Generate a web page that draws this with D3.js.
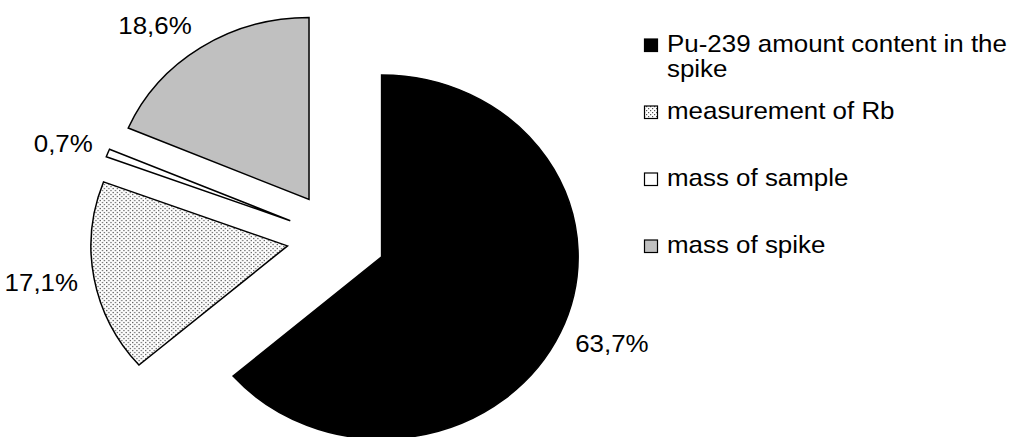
<!DOCTYPE html>
<html><head><meta charset="utf-8">
<script src="https://cdn.jsdelivr.net/npm/d3@7"></script>
<style>
html,body{margin:0;padding:0;background:#fff;}
svg{display:block;}
text{font-family:"Liberation Sans",Arial,Helvetica,sans-serif;font-size:24px;fill:#000;}
</style></head>
<body>
<svg id="chart" width="1012" height="437"></svg>
<script>
const categories = ["Pu-239 amount content in the spike", "measurement of Rb", "mass of sample", "mass of spike"];
const legendLines = [["Pu-239 amount content in the", "spike"], ["measurement of Rb"], ["mass of sample"], ["mass of spike"]];
const values = [63.7, 17.1, 0.7, 18.6];
const fills = ["#000000", "url(#dots)", "#ffffff", "#c0c0c0"];

const svg = d3.select("#chart");
const cx = 336.4, cy = 237.8, r = 182, sx = 1.08, explode = 46, labelR = 243;

const defs = svg.append("defs");
const pat = defs.append("pattern").attr("id", "dots").attr("patternUnits", "userSpaceOnUse")
  .attr("width", 4).attr("height", 4);
pat.append("rect").attr("width", 4).attr("height", 4).attr("fill", "#fff");
pat.append("rect").attr("x", 0).attr("y", 0).attr("width", 1.2).attr("height", 1.2).attr("fill", "#555");
pat.append("rect").attr("x", 2).attr("y", 2).attr("width", 1.2).attr("height", 1.2).attr("fill", "#555");

const fmtLocale = d3.formatLocale({decimal: ",", thousands: ".", grouping: [3], currency: ["", ""]});
const fmt = v => fmtLocale.format(".1f")(v) + "%";

const pie = d3.pie().sort(null).value(d => d);
const arcs = pie(values);
const arc = d3.arc().innerRadius(0).outerRadius(r);

const g = svg.append("g").attr("transform", `translate(${cx},${cy}) scale(${sx},1)`);
g.selectAll("path").data(arcs).join("path")
  .attr("transform", d => {
    const m = (d.startAngle + d.endAngle) / 2;
    return `translate(${explode * Math.sin(m)},${-explode * Math.cos(m)})`;
  })
  .attr("d", arc)
  .attr("fill", (d, i) => fills[i])
  .attr("stroke", "#000")
  .attr("stroke-width", 1.5)
  .attr("stroke-linejoin", "miter")
  .attr("vector-effect", "non-scaling-stroke");

// data labels
const lab = svg.append("g");
arcs.forEach((d, i) => {
  const m = (d.startAngle + d.endAngle) / 2;
  const px = cx + sx * labelR * Math.sin(m);
  const py = cy - labelR * Math.cos(m);
  const t = lab.append("text").text(fmt(values[i]))
    .attr("text-anchor", "middle").attr("dominant-baseline", "central");
  const w = t.node().getComputedTextLength() * sx;
  const h = 24;
  const tx = px + (w / 2) * Math.sign(Math.sin(m));
  const ty = py - (h / 2) * Math.cos(m);
  t.attr("transform", `translate(${tx},${ty}) scale(${sx},1)`);
});

// legend
const legY = d3.scaleLinear().domain([0, 3]).range([52, 253]);
const leg = svg.append("g");
categories.forEach((c, i) => {
  const y = legY(i);
  leg.append("rect").attr("x", 644.5).attr("y", y - 13).attr("width", 13).attr("height", 12.5)
    .attr("fill", fills[i]).attr("stroke", "#000").attr("stroke-width", 1.2);
  const t = leg.append("text").attr("transform", `translate(667,${y}) scale(${sx},1)`);
  legendLines[i].forEach((ln, j) => {
    t.append("tspan").attr("x", 0).attr("y", j * 25.5).text(ln);
  });
});
</script>
</body></html>
